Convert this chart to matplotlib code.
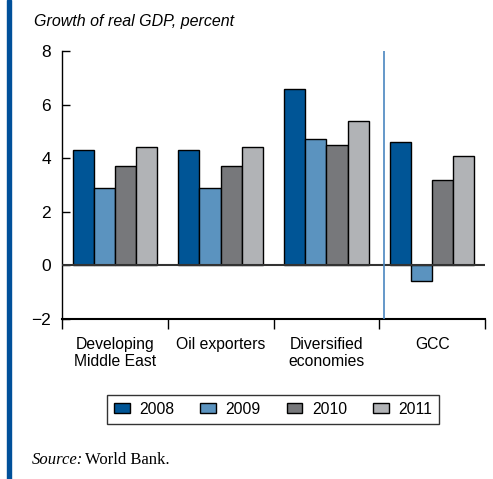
import matplotlib
matplotlib.use("Agg")
import matplotlib.pyplot as plt
from matplotlib.patches import Rectangle
import numpy as np

plt.rcParams['font.family'] = ['Liberation Sans', 'DejaVu Sans']

# data
groups = ['Developing\nMiddle East', 'Oil exporters', 'Diversified\neconomies', 'GCC']
years = ['2008', '2009', '2010', '2011']
g2008 = [4.3, 4.3, 6.6, 4.6]
g2009 = [2.9, 2.9, 4.7, -0.6]
g2010 = [3.7, 3.7, 4.5, 3.2]
g2011 = [4.4, 4.4, 5.4, 4.1]
series = [g2008, g2009, g2010, g2011]
colors = ['#005596', '#5b93bf', '#77787b', '#b1b3b6']

fig = plt.figure(figsize=(4.93, 4.79), dpi=100)
ax = fig.add_axes([0.1258, 0.334, 0.858, 0.5595])

x = np.arange(len(groups))
w = 0.2
for i, (vals, c, yr) in enumerate(zip(series, colors, years)):
    ax.bar(x + (i - 1.5) * w, vals, width=w, color=c, edgecolor='black',
           linewidth=1.0, label=yr, zorder=3)

ax.axhline(0, color='#333333', linewidth=1.5, zorder=4)
ax.axvline(2.545, color='#4a86c0', linewidth=1.2, zorder=5)

ax.set_xlim(-0.5, 3.5)
ax.set_ylim(-2, 8)
ax.set_yticks([-2, 0, 2, 4, 6, 8])
ax.set_yticklabels(['\u22122', '0', '2', '4', '6', '8'])
ax.tick_params(axis='y', direction='in', length=6, width=1, labelsize=12.5, pad=8)

ax.set_xticks([-0.5, 0.5, 1.5, 2.5, 3.5])
ax.set_xticklabels([])
ax.tick_params(axis='x', which='major', direction='out', length=7, width=1)
ax.set_xticks(x, minor=True)
ax.set_xticklabels(groups, minor=True, fontsize=11.3, linespacing=1.15)
ax.tick_params(axis='x', which='minor', length=0, pad=13)

for s in ['top', 'right']:
    ax.spines[s].set_visible(False)
ax.spines['left'].set_linewidth(1.0)
ax.spines['bottom'].set_linewidth(1.5)

fig.text(0.068, 0.955, 'Growth of real GDP, percent', fontsize=11.5,
         style='italic', ha='left', va='center')

leg = fig.legend(loc='center', bbox_to_anchor=(0.554, 0.146), ncol=4,
                 fontsize=11.3, frameon=True, fancybox=False,
                 handlelength=1.0, handleheight=0.6, handletextpad=0.6,
                 columnspacing=1.65, borderpad=0.45, edgecolor='black')
leg.get_frame().set_linewidth(1.0)

src = fig.text(0.065, 0.04, 'Source:', fontsize=12, family='Liberation Serif',
               style='italic', ha='left', va='center')
fig.canvas.draw()
bb = src.get_window_extent().transformed(fig.transFigure.inverted())
fig.text(bb.x1 + 0.004, 0.04, 'World Bank.', fontsize=12, family='Liberation Serif',
         ha='left', va='center')

fig.patches.append(Rectangle((0.0142, 0), 0.0081, 1, transform=fig.transFigure,
                             color='#00509a', zorder=0))

fig.savefig('out.png', dpi=100)
